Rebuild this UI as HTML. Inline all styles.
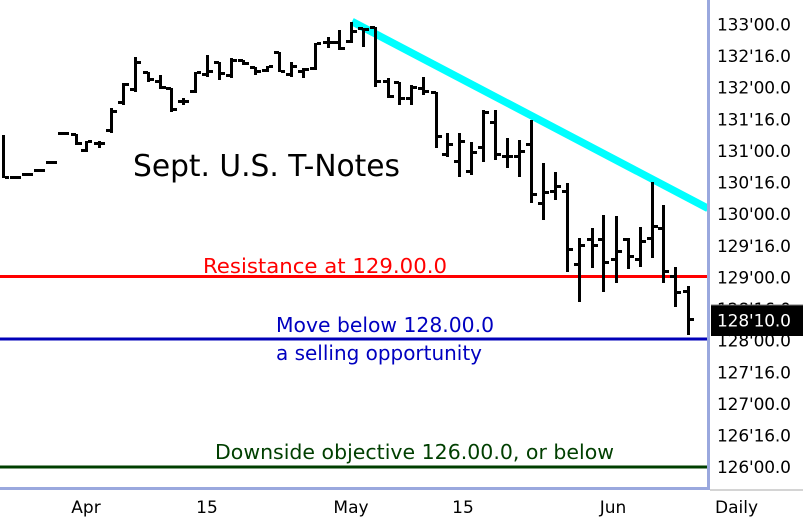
<!DOCTYPE html>
<html>
<head>
<meta charset="utf-8">
<style>
html,body{margin:0;padding:0;background:#fff;}
svg{display:block;}
text{font-family:"DejaVu Sans","Liberation Sans",sans-serif;}
</style>
</head>
<body>
<svg width="803" height="522" viewBox="0 0 803 522" xmlns="http://www.w3.org/2000/svg">
<rect x="0" y="0" width="803" height="522" fill="#ffffff"/>
<rect x="0" y="275" width="708" height="3" fill="#ff0000"/>
<rect x="0" y="337.5" width="708" height="3" fill="#0000b8"/>
<rect x="0" y="465.5" width="708" height="3" fill="#003f00"/>
<line x1="352" y1="21.5" x2="708" y2="208.4" stroke="#00ffff" stroke-width="7.5"/>
<path fill="none" stroke="#000" stroke-width="3" shape-rendering="crispEdges" d="M3.5 135V178M5 177.5H9 M15.5 176V179M10 177.5H15M17 177.5H21 M27.5 173V176M22 174.5H27M29 174.5H33 M39.5 169V172M34 170.5H39M41 170.5H45 M51.5 161V164M46 162.5H51M53 162.5H57 M63.5 132V135M58 133.5H63M65 133.5H69 M76.5 134V145M71 134.5H76M78 143.5H82 M86.5 141V152M81 150.5H86M88 141.5H92 M99.5 141V148M94 143.5H99M101 143.5H105 M111.5 108V133M106 130.5H111M113 111.5H117 M123.5 83V105M118 102.5H123M125 84.5H129 M135.5 57V92M130 89.5H135M137 62.5H141 M148.5 72V82M143 72.5H148M150 79.5H154 M160.5 75V89M155 81.5H160M162 87.5H166 M171.5 88V112M166 88.5H171M173 109.5H177 M183.5 98V105M178 101.5H183M185 101.5H189 M195.5 72V93M190 91.5H195M197 72.5H201 M207.5 55V77M202 74.5H207M209 71.5H213 M219.5 62V80M214 62.5H219M221 73.5H225 M231.5 58V78M226 75.5H231M233 60.5H237 M243.5 60V65M238 60.5H243M245 63.5H249 M255.5 67V75M250 67.5H255M257 71.5H261 M267.5 66V72M262 70.5H267M269 66.5H273 M279.5 52V72M274 52.5H279M281 71.5H285 M291.5 62V77M286 74.5H291M293 66.5H297 M303.5 68V78M298 71.5H303M305 69.5H309 M315.5 43V70M310 68.5H315M317 43.5H321 M328.5 37V48M323 42.5H328M330 42.5H334 M339.5 30V50M334 42.5H339M341 48.5H345 M351.5 22V43M346 41.5H351M353 31.5H357 M363.5 28V47M358 28.5H363M365 29.5H369 M375.5 27V87M370 27.5H375M377 81.5H381 M388.5 78V98M383 81.5H388M390 96.5H394 M399.5 82V105M394 82.5H399M401 98.5H405 M411.5 85V105M406 98.5H411M413 87.5H417 M423.5 77V95M418 88.5H423M425 91.5H429 M436.5 92V148M431 92.5H436M438 136.5H442 M447.5 133V157M442 154.5H447M449 144.5H453 M459.5 133V177M454 161.5H459M461 141.5H465 M471.5 142V175M466 171.5H471M473 152.5H477 M483.5 110V162M478 147.5H483M485 112.5H489 M495.5 110V160M490 122.5H495M497 154.5H501 M507.5 138V168M502 156.5H507M509 156.5H513 M519.5 140V177M514 156.5H519M521 151.5H525 M531.5 120V203M526 144.5H531M533 194.5H537 M543.5 163V220M538 203.5H543M545 192.5H549 M555.5 172V200M550 191.5H555M557 186.5H561 M567.5 183V272M562 191.5H567M569 249.5H573 M579.5 238V302M574 264.5H579M581 245.5H585 M592.5 228V268M587 239.5H592M594 245.5H598 M603.5 215V292M598 239.5H603M605 262.5H609 M616.5 216V283M611 259.5H616M618 251.5H622 M628.5 238V269M623 239.5H628M630 256.5H634 M640.5 227V267M635 259.5H640M642 241.5H646 M652.5 182V258M647 238.5H652M654 226.5H658 M663.5 205V283M658 228.5H663M665 271.5H669 M675.5 267V307M670 276.5H675M677 292.5H681 M688.5 286V335M683 291.5H688M690 319.5H694"/>
<text x="133" y="176" font-size="30" fill="#000" textLength="267" lengthAdjust="spacingAndGlyphs">Sept. U.S. T-Notes</text>
<text x="203" y="273" font-size="20" fill="#ff0000" textLength="244" lengthAdjust="spacingAndGlyphs">Resistance at 129.00.0</text>
<text x="276" y="332" font-size="20" fill="#0000c0" textLength="218" lengthAdjust="spacingAndGlyphs">Move below 128.00.0</text>
<text x="276" y="360" font-size="20" fill="#0000c0" textLength="206" lengthAdjust="spacingAndGlyphs">a selling opportunity</text>
<text x="215" y="459" font-size="20" fill="#003f00" textLength="399" lengthAdjust="spacingAndGlyphs">Downside objective 126.00.0, or below</text>
<rect x="707" y="0" width="3" height="490" fill="#9aa8de"/>
<rect x="0" y="487" width="710" height="3" fill="#9aa8de"/>
<rect x="710" y="489.5" width="93" height="1" fill="#a8a8a8"/>
<g font-size="17" fill="#000">
<text x="717" y="30.5" textLength="74">133'00.0</text>
<text x="717" y="62" textLength="74">132'16.0</text>
<text x="717" y="93.7" textLength="74">132'00.0</text>
<text x="717" y="125.4" textLength="74">131'16.0</text>
<text x="717" y="157" textLength="74">131'00.0</text>
<text x="717" y="188.6" textLength="74">130'16.0</text>
<text x="717" y="220.2" textLength="74">130'00.0</text>
<text x="717" y="251.8" textLength="74">129'16.0</text>
<text x="717" y="283.4" textLength="74">129'00.0</text>
<text x="717" y="315" textLength="74">128'16.0</text>
<text x="717" y="346.7" textLength="74">128'00.0</text>
<text x="717" y="378.3" textLength="74">127'16.0</text>
<text x="717" y="410" textLength="74">127'00.0</text>
<text x="717" y="441.5" textLength="74">126'16.0</text>
<text x="717" y="473" textLength="74">126'00.0</text>
</g>
<rect x="711" y="305" width="92" height="31" fill="#000"/>
<rect x="711" y="304.5" width="92" height="1" fill="#777"/>
<text x="717" y="326.5" font-size="17" fill="#fff" textLength="74">128'10.0</text>
<g font-size="17" fill="#000" text-anchor="middle">
<text x="86" y="513">Apr</text>
<text x="207" y="513">15</text>
<text x="351" y="513">May</text>
<text x="463" y="513">15</text>
<text x="613" y="513">Jun</text>
</g>
<text x="715" y="513" font-size="17" fill="#000">Daily</text>
</svg>
</body>
</html>
